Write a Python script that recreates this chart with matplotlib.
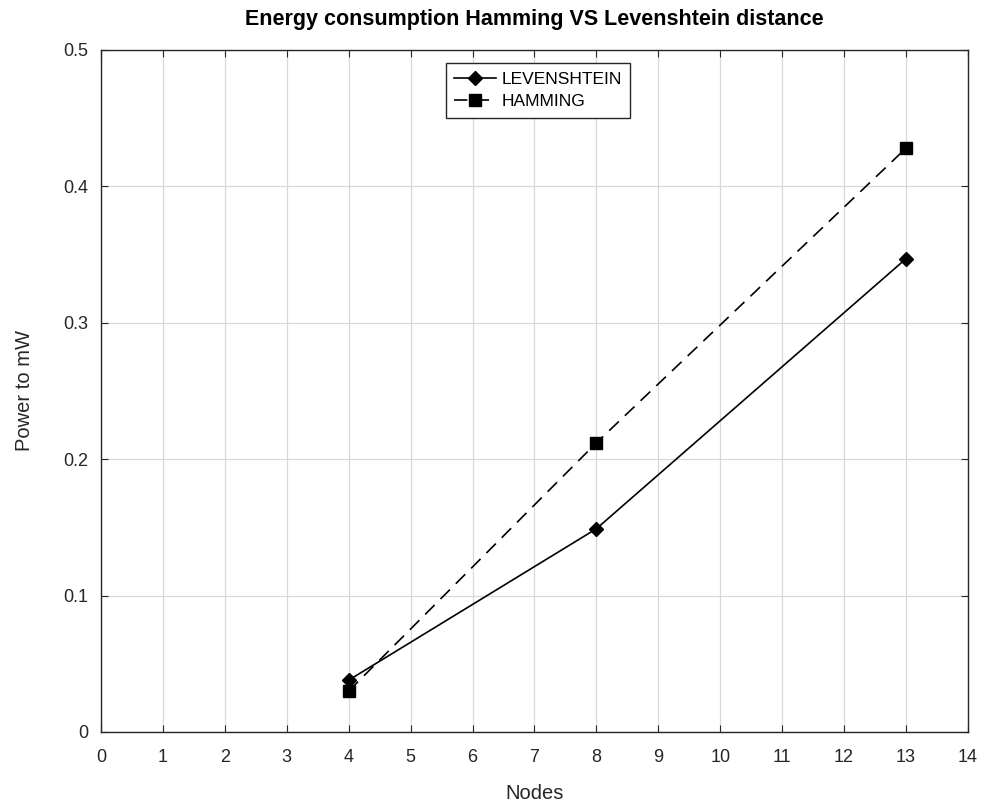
import matplotlib
matplotlib.use("Agg")
import matplotlib.pyplot as plt

nodes = [4, 8, 13]
levenshtein = [0.038, 0.149, 0.347]
hamming = [0.030, 0.212, 0.428]

x_ticks = list(range(0, 15))
y_ticks = [0, 0.1, 0.2, 0.3, 0.4, 0.5]

plt.rcParams.update({
    "font.family": ["Liberation Sans", "DejaVu Sans"],
    "font.size": 10,
})

fig = plt.figure(figsize=(9.86, 8.05), dpi=100)
ax = fig.add_axes([0.1024, 0.0907, 0.8793, 0.8472])

ax.plot(nodes, levenshtein, "-", color="black", linewidth=1.2,
        marker="D", markersize=7, label="LEVENSHTEIN")
ax.plot(nodes, hamming, "--", color="black", linewidth=1.2, dashes=(8, 5),
        marker="s", markersize=9, label="HAMMING")

ax.set_xlim(0, 14)
ax.set_ylim(0, 0.5)
ax.set_xticks(x_ticks)
ax.set_yticks(y_ticks)
ax.set_xticklabels([str(t) for t in x_ticks])
ax.set_yticklabels(["0", "0.1", "0.2", "0.3", "0.4", "0.5"])
ax.grid(True, color="#d9d9d9", linewidth=0.9)
ax.set_axisbelow(True)
ax.tick_params(direction="in", length=5, top=True, right=True,
               labelsize=13, colors="#262626")
ax.tick_params(axis="x", pad=12)
ax.tick_params(axis="y", pad=9)
for s in ax.spines.values():
    s.set_color("#262626")
    s.set_linewidth(1.0)

ax.set_xlabel("Nodes", fontsize=14.5, color="#262626", labelpad=13)
ax.set_ylabel("Power to mW", fontsize=14.5, color="#262626", labelpad=21)
ax.set_title("Energy consumption Hamming VS Levenshtein distance",
             fontsize=15.5, fontweight="bold", pad=18)

leg = ax.legend(loc="upper center", bbox_to_anchor=(0.504, 0.993),
                fancybox=False, framealpha=1, edgecolor="#262626",
                fontsize=12.5, handlelength=2.4, borderpad=0.5,
                labelspacing=0.4, handletextpad=0.3)
leg.get_frame().set_linewidth(1.0)

fig.savefig("out.png", dpi=100)
